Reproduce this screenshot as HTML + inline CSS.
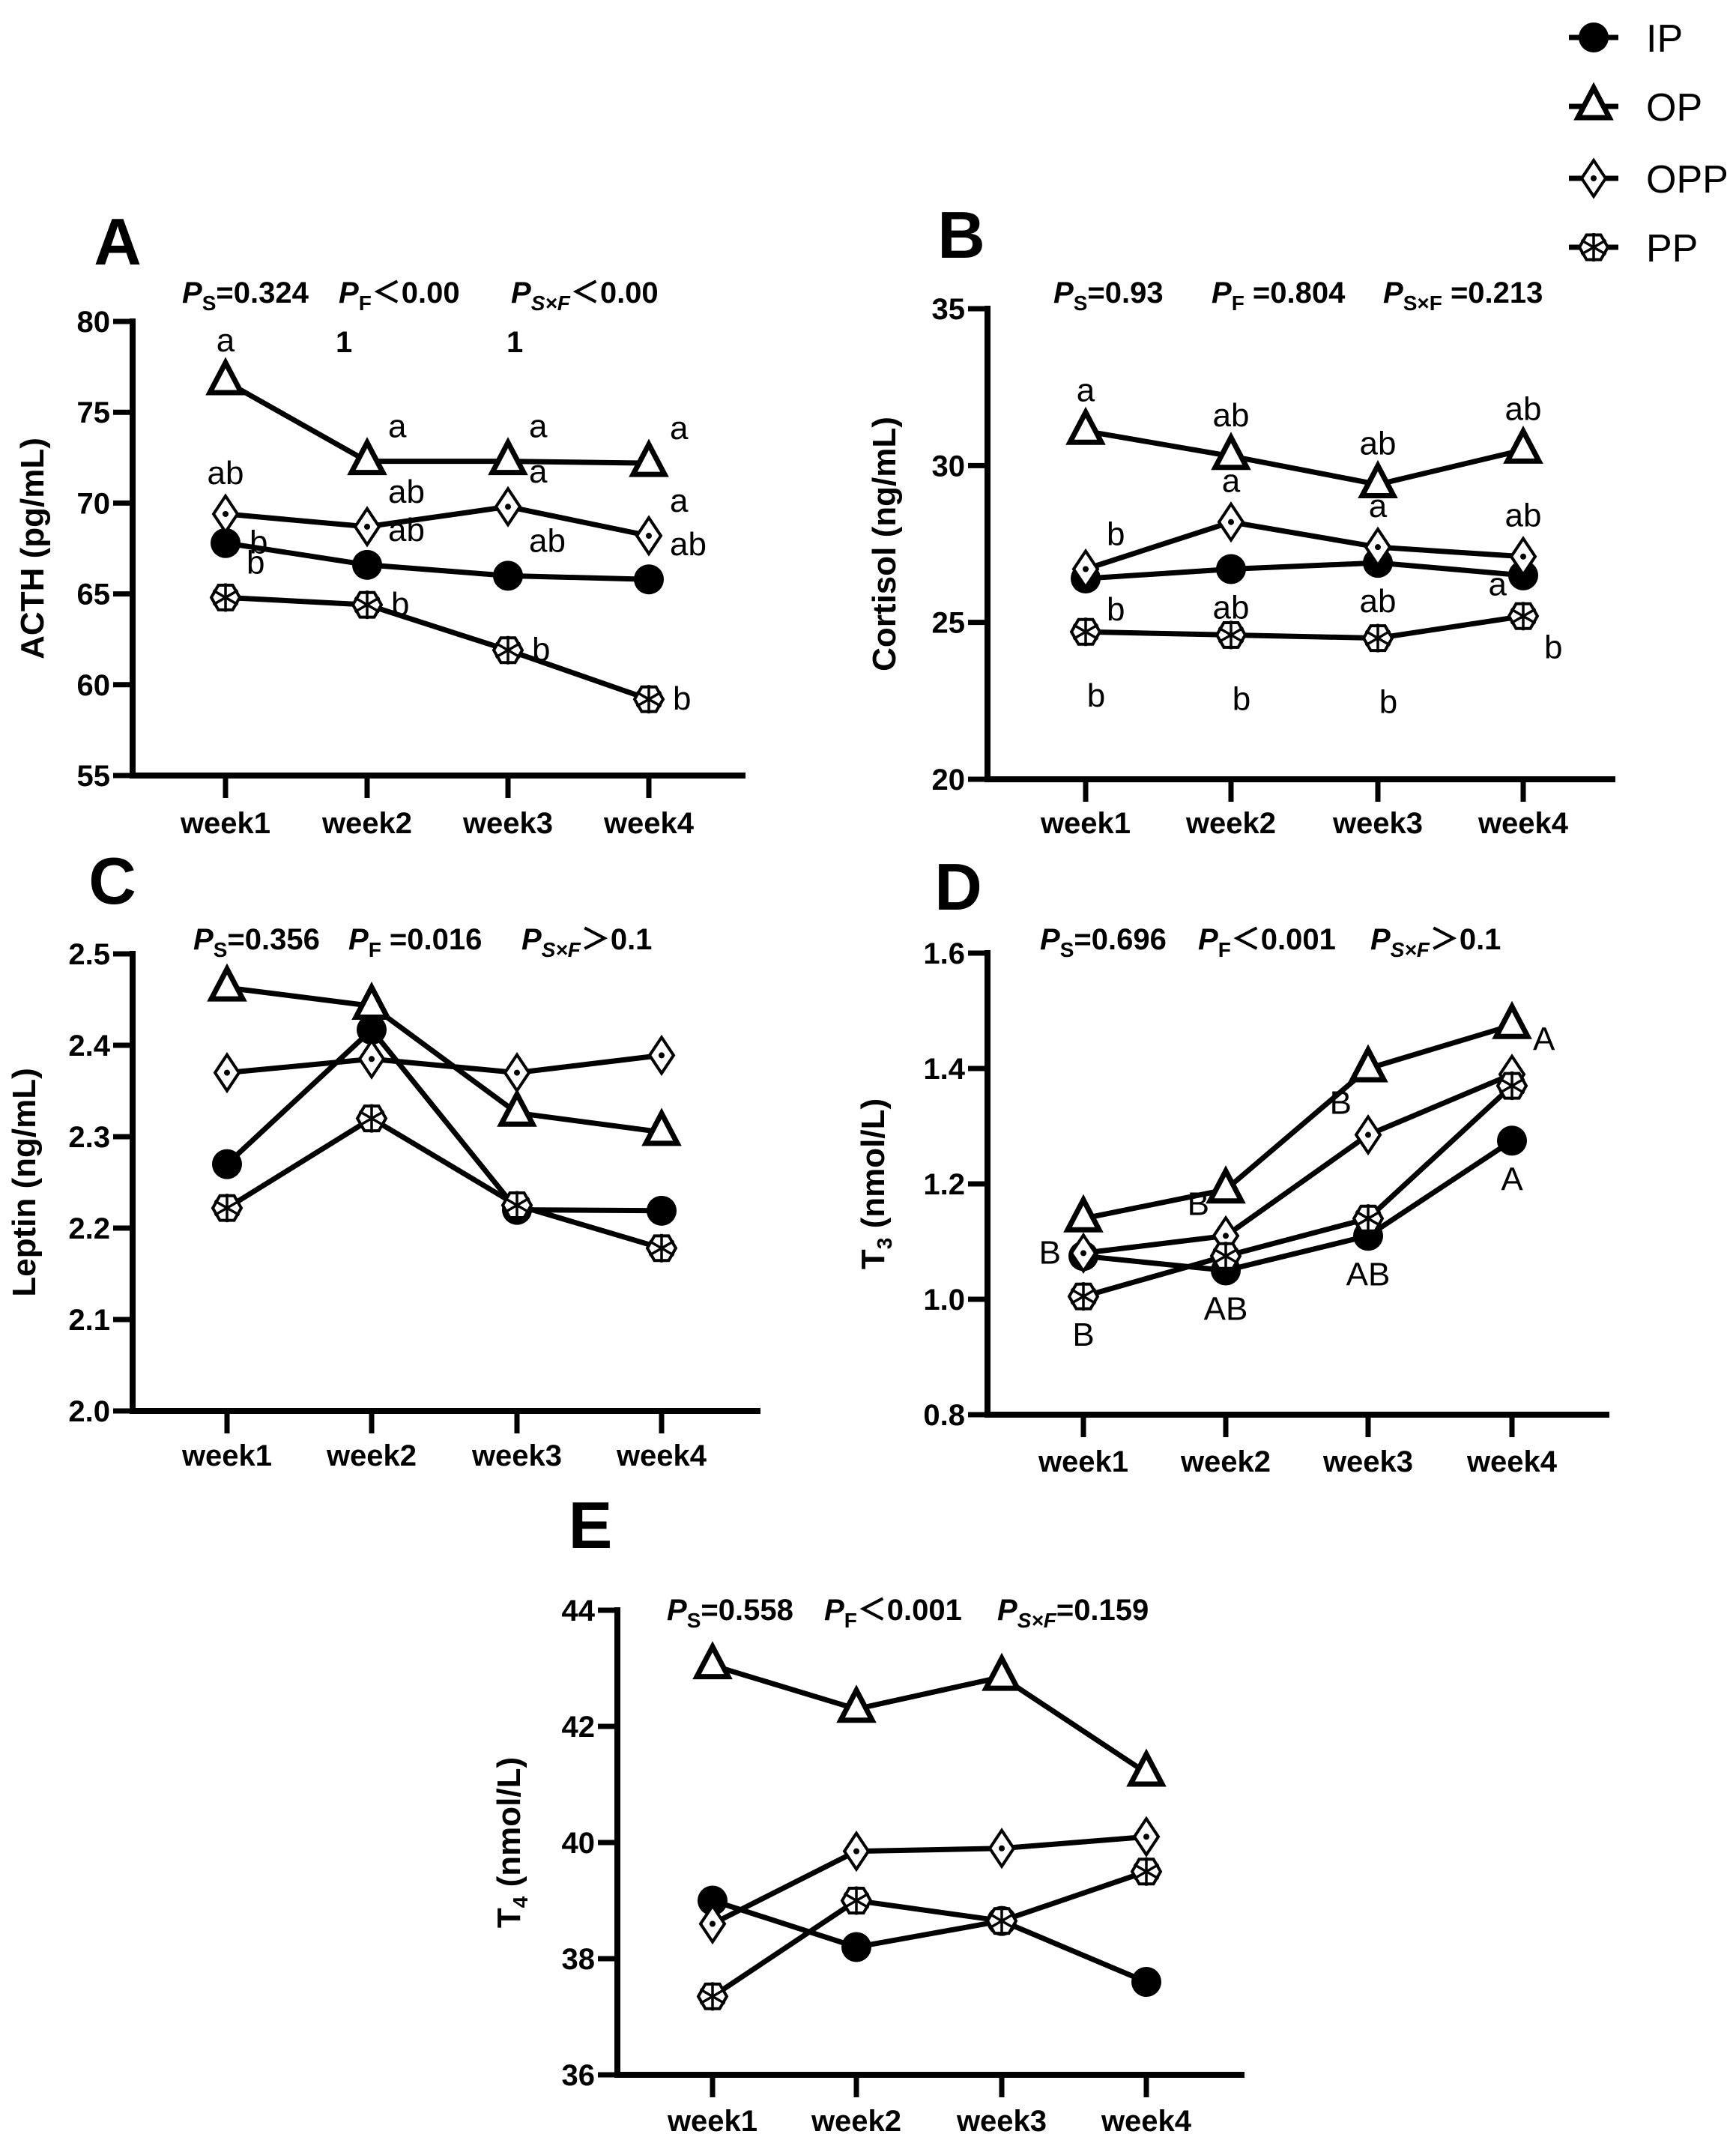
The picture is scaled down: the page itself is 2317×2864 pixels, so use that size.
<!DOCTYPE html>
<html><head><meta charset="utf-8"><style>
html,body{margin:0;padding:0;background:#fff}
svg{display:block}
text{font-family:"Liberation Sans","Noto Sans CJK SC",sans-serif;fill:#000}
</style></head><body>
<svg id="fig" width="2317" height="2864" viewBox="0 0 2317 2864" xmlns="http://www.w3.org/2000/svg">
<rect width="2317" height="2864" fill="#fff"/>
<g id="legend"></g>
</svg>
<script>
const weeks = ["week1","week2","week3","week4"];
const seriesNames = ["IP","OP","OPP","PP"];
// Panel A ACTH
const acthIP  = [67.8, 66.6, 66.0, 65.8];
const acthOP  = [76.7, 72.3, 72.3, 72.2];
const acthOPP = [69.4, 68.7, 69.8, 68.2];
const acthPP  = [64.8, 64.4, 61.9, 59.2];
const acthTicks = [55,60,65,70,75,80];
// Panel B Cortisol
const cortIP  = [26.4, 26.7, 26.9, 26.5];
const cortOP  = [31.1, 30.3, 29.4, 30.5];
const cortOPP = [26.7, 28.2, 27.4, 27.1];
const cortPP  = [24.7, 24.6, 24.5, 25.2];
const cortTicks = [20,25,30,35];
// Panel C Leptin
const lepIP  = [2.270, 2.417, 2.220, 2.219];
const lepOP  = [2.463, 2.443, 2.326, 2.305];
const lepOPP = [2.370, 2.385, 2.370, 2.389];
const lepPP  = [2.222, 2.320, 2.225, 2.178];
const lepTicks = ["2.0","2.1","2.2","2.3","2.4","2.5"];
// Panel D T3
const t3IP  = [1.075, 1.050, 1.110, 1.275];
const t3OP  = [1.140, 1.190, 1.400, 1.475];
const t3OPP = [1.080, 1.110, 1.285, 1.390];
const t3PP  = [1.005, 1.075, 1.140, 1.370];
const t3Ticks = ["0.8","1.0","1.2","1.4","1.6"];
// Panel E T4
const t4IP  = [39.0, 38.2, 38.65, 37.6];
const t4OP  = [43.05, 42.3, 42.85, 41.2];
const t4OPP = [38.6, 39.85, 39.9, 40.1];
const t4PP  = [37.35, 39.0, 38.65, 39.5];
const t4Ticks = [36,38,40,42,44];
// significance letters: [seriesIndex, weekIndex, label, placement]
const acthLetters = [[1,0,"a","top"],[1,1,"a","ur"],[1,2,"a","ur"],[1,3,"a","ur"],
 [2,0,"ab","top"],[2,1,"ab","ur"],[2,2,"a","ur"],[2,3,"a","ur"],
 [0,0,"b","r"],[0,1,"ab","ur"],[0,2,"ab","ur"],[0,3,"ab","ur"],
 [3,0,"b","ur"],[3,1,"b","r"],[3,2,"b","r"],[3,3,"b","r"]];
const cortLetters = [[1,0,"a","top"],[1,1,"ab","top"],[1,2,"ab","top"],[1,3,"ab","top"],
 [2,0,"b","ur"],[2,1,"a","top"],[2,2,"a","top"],[2,3,"ab","top"],
 [0,0,"b","br"],[0,1,"ab","bot"],[0,2,"ab","bot"],[3,3,"a","tl"],
 [3,0,"b","bot2"],[3,1,"b","bot2"],[3,2,"b","bot2"],[3,3,"b","br"]];
const lepLetters = [];
const t3Letters = [[2,0,"B","l"],[2,1,"B","tl"],[2,2,"B","tl"],[2,3,"A","ur"],
 [0,1,"AB","bot"],[0,2,"AB","bot"],[0,3,"A","bot"],[3,0,"B","bot"]];
const t4Letters = [];

const svg = document.getElementById('fig');
const NS = "http://www.w3.org/2000/svg";
function mk(tag, attrs, parent){const e=document.createElementNS(NS,tag);for(const k in attrs)e.setAttribute(k,attrs[k]);(parent||svg).appendChild(e);return e;}

function marker(g, type, x, y){
  let e;
  if(type===0){ e=mk('circle',{cx:x,cy:y,r:20,fill:'#000'},g); }
  else if(type===1){ e=mk('polygon',{points:`${x},${y-25} ${x+21},${y+15} ${x-21},${y+15}`,fill:'#fff',stroke:'#000','stroke-width':7},g); }
  else if(type===2){ e=mk('g',{},g);
    mk('polygon',{points:`${x},${y-24} ${x+16},${y} ${x},${y+24} ${x-16},${y}`,fill:'#fff',stroke:'#000','stroke-width':4},e);
    mk('circle',{cx:x,cy:y,r:4,fill:'#000'},e); }
  else { e=mk('g',{},g);
    const r=19; let pts=[];for(let i=0;i<6;i++){const a=Math.PI/3*i;pts.push((x+r*Math.cos(a)).toFixed(1)+','+(y+r*Math.sin(a)).toFixed(1));}
    mk('polygon',{points:pts.join(' '),fill:'#fff',stroke:'#000','stroke-width':4},e);
    for(let i=0;i<3;i++){const a=Math.PI/3*i+Math.PI/6;mk('line',{x1:x-r*Math.cos(a),y1:y-r*Math.sin(a),x2:x+r*Math.cos(a),y2:y+r*Math.sin(a),stroke:'#000','stroke-width':3.5},e);} }
  return e;
}

function drawPanel(p){
  const g = mk('g',{});
  
  
  const ymin=parseFloat(p.ticks[0]), ymax=parseFloat(p.ticks[p.ticks.length-1]);
  const Y = v => p.y1 - (v-ymin)/(ymax-ymin)*(p.y1-p.y0);
  const X = i => p.wx[i];
  const ya = mk('line',{x1:p.ax,y1:p.y0-4,x2:p.ax,y2:p.y1+4,stroke:'#000','stroke-width':8},g);
   
  const xa = mk('line',{x1:p.ax-4,y1:p.y1,x2:p.xend,y2:p.y1,stroke:'#000','stroke-width':8},g);
   
  p.ticks.forEach(t=>{
    const y=Y(parseFloat(t));
    mk('line',{x1:p.ax-26,y1:y,x2:p.ax,y2:y,stroke:'#000','stroke-width':7},g);
    const tl=mk('text',{x:p.ax-30,y:y+14,'text-anchor':'end','font-size':40,'font-weight':'bold'},g);
    tl.textContent=t;
     
  });
  weeks.forEach((w,i)=>{
    mk('line',{x1:X(i),y1:p.y1,x2:X(i),y2:p.y1+30,stroke:'#000','stroke-width':7},g);
    const tl=mk('text',{x:X(i),y:p.xl,'text-anchor':'middle','font-size':40,'font-weight':'bold'},g);
    tl.textContent=w;
     
  });
  const yt=mk('text',{x:0,y:0,'text-anchor':'middle','font-size':44,'font-weight':'bold',transform:`translate(${p.tx},${(p.y0+p.y1)/2}) rotate(-90)`},g);
  yt.innerHTML=p.title;
   
  const pl=mk('text',{x:p.lx,y:p.ly+32,'text-anchor':'middle','font-size':88,'font-weight':'bold'},g);
  pl.textContent=p.letter;
   
  p.pv.forEach(pv=>{
    const t=mk('text',{x:pv[0],y:p.py+14,'font-size':40,'font-weight':'bold'},g);
    t.innerHTML=pv[1];
     
  });
  (p.extra||[]).forEach(ex=>{const t=mk('text',{x:ex[0],y:ex[1],'font-size':40,'font-weight':'bold'},g);t.textContent=ex[2];});
  p.series.forEach((vals,s)=>{
    const sg=mk('g',{},g);
    
    
    const pts=vals.map((v,i)=>X(i)+','+Y(v).toFixed(1)).join(' ');
    const pl=mk('polyline',{points:pts,fill:'none',stroke:'#000','stroke-width':7},sg);
    
    
  });
  p.series.forEach((vals,s)=>{
    vals.forEach((v,i)=>{
      const m=marker(g,s,X(i),Y(v));
      
      
    });
  });
  const off={top:[0,-40],ur:[28,-32],r:[32,14],br:[28,56],bot:[0,66],bot2:[14,100],tl:[-22,-28],l:[-30,14]};
  p.letters.forEach(L=>{
    const x=X(L[1]), y=Y(p.series[L[0]][L[1]]); const o=off[L[3]];
    const anchor = (L[3]==='ur'||L[3]==='r'||L[3]==='br')?'start':(L[3]==='tl'||L[3]==='l')?'end':'middle';
    const t=mk('text',{x:x+o[0],y:y+o[1],'text-anchor':anchor,'font-size':44},g);
    t.textContent=L[2];
     
  });
}
const sub=(s,it)=>`<tspan font-size="28" dy="10"${it?' font-style="italic"':''}>${s}</tspan><tspan dy="-10">`;
const P='<tspan font-style="italic">P</tspan>';

drawPanel({name:'panel-a-acth',letter:'A',lx:157,ly:321,ax:177,y0:429,y1:1035,xend:995,wx:[301,490,678,866],xl:1112,tx:58,
 ticks:acthTicks,title:'ACTH (pg/mL)',series:[acthIP,acthOP,acthOPP,acthPP],letters:acthLetters,py:390,
 pv:[[243,P+sub('S')+'=0.324</tspan>'],[452,P+sub('F')+'＜0.00</tspan>'],[682,P+sub('S×F',1)+'＜0.00</tspan>']],
 extra:[[448,470,'1'],[676,470,'1']]});
drawPanel({name:'panel-b-cortisol',letter:'B',lx:1283,ly:312,ax:1318,y0:412,y1:1040,xend:2156,wx:[1449,1643,1839,2033],xl:1112,tx:1195,
 ticks:cortTicks,title:'Cortisol (ng/mL)',series:[cortIP,cortOP,cortOPP,cortPP],letters:cortLetters,py:390,
 pv:[[1406,P+sub('S')+'=0.93</tspan>'],[1617,P+sub('F')+' =0.804</tspan>'],[1846,P+sub('S×F')+' =0.213</tspan>']]});
drawPanel({name:'panel-c-leptin',letter:'C',lx:150,ly:1174,ax:177,y0:1273,y1:1883,xend:1015,wx:[303,496,690,883],xl:1956,tx:47,
 ticks:lepTicks,title:'Leptin (ng/mL)',series:[lepIP,lepOP,lepOPP,lepPP],letters:lepLetters,py:1253,
 pv:[[258,P+sub('S')+'=0.356</tspan>'],[465,P+sub('F')+' =0.016</tspan>'],[696,P+sub('S×F',1)+'＞0.1</tspan>']]});
drawPanel({name:'panel-d-t3',letter:'D',lx:1279,ly:1182,ax:1318,y0:1272,y1:1888,xend:2148,wx:[1446,1636,1826,2018],xl:1964,tx:1180,
 ticks:t3Ticks,title:'T<tspan font-size="28" dy="10">3</tspan><tspan dy="-10"> (nmol/L)</tspan>',series:[t3IP,t3OP,t3OPP,t3PP],letters:t3Letters,py:1253,
 pv:[[1388,P+sub('S')+'=0.696</tspan>'],[1599,P+sub('F')+'＜0.001</tspan>'],[1829,P+sub('S×F',1)+'＞0.1</tspan>']]});
drawPanel({name:'panel-e-t4',letter:'E',lx:788,ly:2034,ax:824,y0:2149,y1:2769,xend:1661,wx:[951,1143,1337,1530],xl:2844,tx:694,
 ticks:t4Ticks,title:'T<tspan font-size="28" dy="10">4</tspan><tspan dy="-10"> (nmol/L)</tspan>',series:[t4IP,t4OP,t4OPP,t4PP],letters:t4Letters,py:2148,
 pv:[[890,P+sub('S')+'=0.558</tspan>'],[1100,P+sub('F')+'＜0.001</tspan>'],[1331,P+sub('S×F',1)+'=0.159</tspan>']]});

const lg=document.getElementById('legend');
const legY=[50,142,238,330];
seriesNames.forEach((n,i)=>{
  const e=mk('g',{},lg);
  
  
  mk('line',{x1:2094,y1:legY[i],x2:2160,y2:legY[i],stroke:'#000','stroke-width':7},e);
  marker(e,i,2127,legY[i]);
  const t=mk('text',{x:2197,y:legY[i]+19,'font-size':52},e);
  t.textContent=n;
});
</script>
</body></html>
